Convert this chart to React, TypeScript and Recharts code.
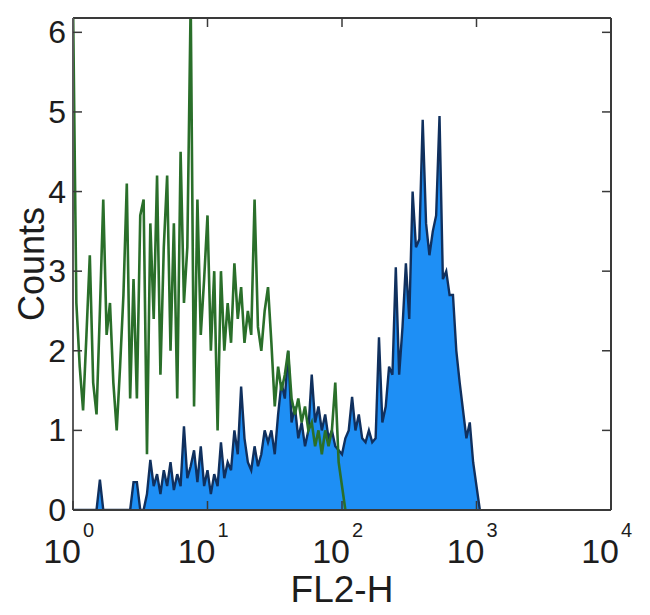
import React from "react";
import { ComposedChart, Area, Line, XAxis, YAxis } from "recharts";

// FL2-H histogram channels, 40 per decade starting at 10^0
const BINS_PER_DECADE = 40;

// isotype control (green line)
const isotypeCounts = [
  6.4, 2.6, 1.8, 1.25, 2.2, 3.2, 1.6, 1.2, 2.5, 3.9,
  2.2, 2.6, 1.6, 1.0, 1.8, 2.7, 4.1, 1.4, 2.9, 1.4,
  3.7, 3.9, 0.7, 3.6, 2.4, 4.2, 1.7, 3.3, 4.2, 2.0,
  3.6, 1.4, 4.5, 2.6, 3.3, 6.4, 1.3, 3.9, 2.2, 2.9,
  3.7, 2.0, 3.0, 1.0, 3.0, 2.0, 2.6, 2.1, 3.1, 2.4,
  2.8, 2.1, 2.5, 2.2, 3.9, 2.3, 2.0, 2.5, 2.8, 2.1,
  1.3, 1.8, 1.5, 1.7, 2.0, 1.4, 1.2, 1.4, 1.1, 1.3,
  1.0, 1.1, 0.8, 1.0, 0.7, 1.0, 0.8, 1.0, 1.6, 0.6,
  0.3, 0,
];

// stained sample (filled blue)
const stainedCounts = [
  0, 0, 0, 0, 0, 0, 0, 0, 0.38, 0,
  0, 0, 0, 0, 0, 0, 0, 0, 0.35, 0.35,
  0, 0, 0.2, 0.63, 0.3, 0.45, 0.2, 0.5, 0.3, 0.6,
  0.25, 0.45, 0.3, 1.05, 0.4, 0.55, 0.75, 0.35, 0.8, 0.3,
  0.5, 0.2, 0.45, 0.3, 0.85, 0.4, 0.6, 0.5, 1.0, 0.7,
  1.55, 0.9, 0.6, 0.5, 0.8, 0.55, 0.7, 1.0, 0.85, 1.0,
  0.7, 1.2, 1.6, 1.4, 2.0, 1.1, 1.3, 0.9, 1.1, 0.8,
  1.0, 1.7, 1.1, 1.3, 1.0, 1.2, 0.9, 1.0, 0.8, 0.75,
  0.7, 0.9, 1.0, 1.42, 1.0, 1.2, 0.9, 0.85, 1.0, 0.85,
  0.9, 2.17, 1.1, 1.3, 1.8, 1.7, 3.05, 1.7, 2.3, 3.1,
  2.4, 4.0, 3.3, 3.4, 4.9, 3.6, 3.2, 3.5, 3.7, 4.95,
  2.9, 3.0, 2.7, 2.7, 2.0, 1.6, 1.25, 0.9, 1.1, 0.6,
  0.3, 0,
];

const xTicks = [1, 10, 100, 1000, 10000];
const yTicks = [0, 1, 2, 3, 4, 5, 6];

const FONT = '"Liberation Sans", Arial, Helvetica, sans-serif';
const INK = "#1d1d1d";
const FRAME = "#3a3a3a";
const TICK_LEN = 9;

const rows = stainedCounts.map((v, i) => ({
  fl2: Math.pow(10, i / BINS_PER_DECADE),
  stained: v,
  isotype: isotypeCounts[i],
}));

function LeftTick({ x, y, payload }: any) {
  return (
    <g>
      <line x1={x} y1={y} x2={x + TICK_LEN} y2={y} stroke={FRAME} strokeWidth={1.5} />
      <text x={x - 7} y={y + 11} textAnchor="end" fontSize={32} fontFamily={FONT} fill={INK}>
        {payload.value}
      </text>
    </g>
  );
}

function RightTick({ x, y }: any) {
  return <line x1={x} y1={y} x2={x - TICK_LEN} y2={y} stroke={FRAME} strokeWidth={1.5} />;
}

function TopTick({ x, y }: any) {
  return <line x1={x} y1={y} x2={x} y2={y + TICK_LEN} stroke={FRAME} strokeWidth={1.5} />;
}

function BottomTick({ x, y, payload }: any) {
  const exp = Math.round(Math.log10(payload.value));
  return (
    <g>
      <line x1={x} y1={y} x2={x} y2={y - TICK_LEN} stroke={FRAME} strokeWidth={1.5} />
      <text x={x + 8} y={y + 53} textAnchor="end" fontSize={34} fontFamily={FONT} fill={INK}>
        10
      </text>
      <text x={x + 10} y={y + 27} textAnchor="start" fontSize={20} fontFamily={FONT} fill={INK}>
        {exp}
      </text>
    </g>
  );
}

export default function App() {
  return (
    <div style={{ position: "absolute", left: 0, top: 0, background: "#fff" }}>
      <ComposedChart width={650} height={615} data={rows} margin={{ top: 0, right: 0, bottom: 0, left: 0 }}>
        <XAxis
          dataKey="fl2"
          type="number"
          scale="log"
          domain={[1, 10000]}
          allowDataOverflow
          ticks={xTicks}
          interval={0}
          height={105}
          tickSize={0}
          tickMargin={0}
          tickLine={false}
          axisLine={{ stroke: FRAME, strokeWidth: 2 }}
          tick={<BottomTick />}
          label={{
            content: ({ viewBox }: any) => (
              <text
                x={viewBox.x + viewBox.width / 2}
                y={viewBox.y + 92}
                textAnchor="middle"
                fontSize={37}
                fontFamily={FONT}
                fill={INK}
              >
                FL2-H
              </text>
            ),
          }}
        />
        <XAxis
          xAxisId="top"
          orientation="top"
          dataKey="fl2"
          type="number"
          scale="log"
          domain={[1, 10000]}
          allowDataOverflow
          ticks={[10, 100, 1000]}
          interval={0}
          height={18}
          tickSize={0}
          tickMargin={0}
          tickLine={false}
          axisLine={{ stroke: FRAME, strokeWidth: 2 }}
          tick={<TopTick />}
        />
        <YAxis
          type="number"
          domain={[0, 6.18]}
          allowDataOverflow
          ticks={yTicks}
          interval={0}
          width={73}
          tickSize={0}
          tickMargin={0}
          tickLine={false}
          axisLine={{ stroke: "#5a5a5a", strokeWidth: 2 }}
          tick={<LeftTick />}
          label={{
            content: ({ viewBox }: any) => {
              const cy = viewBox.y + viewBox.height / 2;
              return (
                <text
                  x={31}
                  y={cy}
                  transform={`rotate(-90 31 ${cy})`}
                  textAnchor="middle"
                  dominantBaseline="central"
                  fontSize={36}
                  fontFamily={FONT}
                  fill={INK}
                >
                  Counts
                </text>
              );
            },
          }}
        />
        <YAxis
          yAxisId="right"
          orientation="right"
          type="number"
          domain={[0, 6.18]}
          allowDataOverflow
          ticks={yTicks}
          interval={0}
          width={39}
          tickSize={0}
          tickMargin={0}
          tickLine={false}
          axisLine={{ stroke: FRAME, strokeWidth: 2 }}
          tick={<RightTick />}
        />
        <Area
          dataKey="stained"
          type="linear"
          fill="#1e8ff5"
          fillOpacity={1}
          stroke="#10305e"
          strokeWidth={2.4}
          strokeLinejoin="miter"
          dot={false}
          activeDot={false}
          isAnimationActive={false}
        />
        <Line
          dataKey="isotype"
          type="linear"
          stroke="#2a6f2a"
          strokeWidth={2.6}
          strokeLinejoin="miter"
          dot={false}
          activeDot={false}
          isAnimationActive={false}
        />
      </ComposedChart>
    </div>
  );
}
